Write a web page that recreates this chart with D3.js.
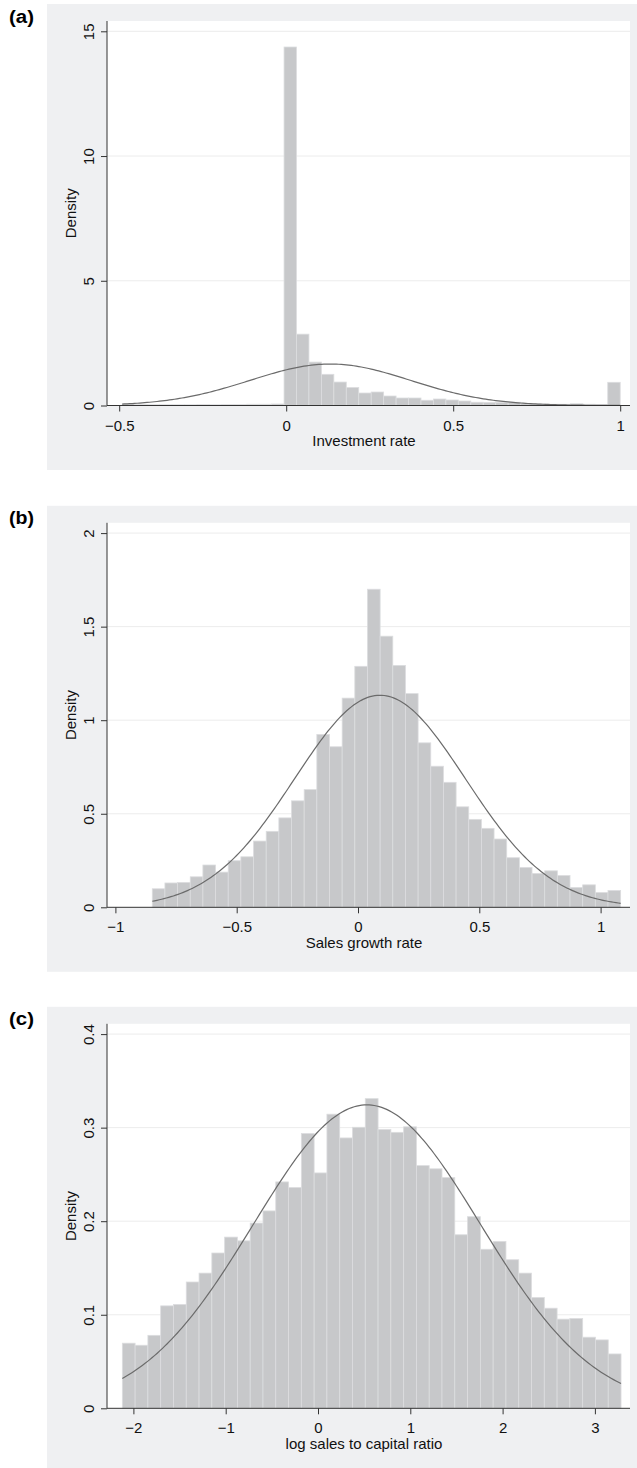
<!DOCTYPE html>
<html><head><meta charset="utf-8">
<script src="https://cdn.jsdelivr.net/npm/d3@7"></script>
<style>html,body{margin:0;padding:0;background:#fff;} svg{display:block;}</style>
</head><body>
<svg id="chart" width="637" height="1468"></svg>
<script>
// ---------------- data ----------------
const panelLabels = ["(a)", "(b)", "(c)"];
const xTitles = ["Investment rate", "Sales growth rate", "log sales to capital ratio"];
const yTitle = "Density";

// (a) Investment rate
const invBinStart = -0.491, invBinWidth = 0.037275;
const invDensity = [0.06,0.03,0.03,0.03,0.03,0.03,0.04,0.03,0.04,0.04,0.05,0.05,0.06,
  14.37,2.86,1.74,1.25,0.94,0.72,0.50,0.54,0.38,0.30,0.30,0.21,0.26,0.22,0.18,0.13,0.12,0.12,0.13,
  0.07,0.06,0.05,0.05,0.07,0.05,0.04,0.93];
const invNormal = [0.132, 0.240];           // mean, sd
const invXTicks = [-0.5, 0, 0.5, 1];
const invYTicks = [0, 5, 10, 15];

// (b) Sales growth rate
const salesBinStart = -0.848, salesBinWidth = 0.05218;
const salesDensity = [0.099,0.130,0.133,0.163,0.226,0.188,0.249,0.270,0.354,0.406,
  0.478,0.569,0.629,0.924,0.858,1.118,1.288,1.700,1.449,1.293,
  1.142,0.879,0.754,0.668,0.537,0.470,0.422,0.365,0.265,0.213,
  0.181,0.195,0.170,0.106,0.120,0.079,0.090];
const salesNormal = [0.0907, 0.352];
const salesXTicks = [-1, -0.5, 0, 0.5, 1];
const salesYTicks = [0, 0.5, 1, 1.5, 2];

// (c) log sales to capital ratio
const lscBinStart = -2.12, lscBinWidth = 0.13854;
const lscDensity = [0.0696,0.0674,0.078,0.1095,0.111,0.135,0.1445,0.166,0.183,0.179,
  0.198,0.211,0.242,0.236,0.2937,0.2516,0.3144,0.289,0.3004,0.331,
  0.298,0.295,0.3009,0.2594,0.256,0.2466,0.1855,0.2048,0.170,0.1784,
  0.1588,0.1445,0.1184,0.107,0.0953,0.096,0.076,0.0731,0.0581];
const lscNormal = [0.53, 1.23];
const lscXTicks = [-2, -1, 0, 1, 2, 3];
const lscYTicks = [0, 0.1, 0.2, 0.3, 0.4];

// ---------------- layout ----------------
const panels = [
  {label: panelLabels[0], title: xTitles[0], start: invBinStart, width: invBinWidth, dens: invDensity,
   normal: invNormal, xt: invXTicks, yt: invYTicks, off: 0, xr: [119.2, 620.2]},
  {label: panelLabels[1], title: xTitles[1], start: salesBinStart, width: salesBinWidth, dens: salesDensity,
   normal: salesNormal, xt: salesXTicks, yt: salesYTicks, off: 501.8, xr: [115.4, 600.6]},
  {label: panelLabels[2], title: xTitles[2], start: lscBinStart, width: lscBinWidth, dens: lscDensity,
   normal: lscNormal, xt: lscXTicks, yt: lscYTicks, off: 1002.8, xr: [133.4, 594.9]}
];

const FONT = "'Liberation Sans', Arial, Helvetica, sans-serif";
const plotL = 107, plotR = 630;
const fmt = v => (v < 0 ? "\u2212" + String(-v) : String(v));

const svg = d3.select("#chart");

panels.forEach(p => {
  const o = p.off;
  const boxTop = o + 4, boxBot = o + 470;
  const plotTop = o + 21, axisY = o + 405.5, topTickY = o + 31.3;
  const g = svg.append("g");

  g.append("rect").attr("x", 47).attr("y", boxTop).attr("width", 637 - 47)
    .attr("height", boxBot - boxTop).attr("fill", "#eff0f2");
  g.append("rect").attr("x", plotL).attr("y", plotTop).attr("width", plotR - plotL)
    .attr("height", axisY - plotTop).attr("fill", "#ffffff");

  const x = d3.scaleLinear().domain([p.xt[0], p.xt[p.xt.length - 1]]).range(p.xr);
  const y = d3.scaleLinear().domain([0, p.yt[p.yt.length - 1]]).range([axisY, topTickY]);

  // gridlines
  g.append("g").selectAll("line").data(p.yt.filter(v => v !== 0)).join("line")
    .attr("x1", plotL).attr("x2", plotR)
    .attr("y1", d => y(d)).attr("y2", d => y(d))
    .attr("stroke", "#ececec").attr("stroke-width", 1);

  // bars
  g.append("g").selectAll("rect").data(p.dens).join("rect")
    .attr("x", (d, i) => x(p.start + i * p.width))
    .attr("width", (d, i) => x(p.start + (i + 1) * p.width) - x(p.start + i * p.width))
    .attr("y", d => y(d))
    .attr("height", d => axisY - y(d))
    .attr("fill", "#c7c8ca").attr("stroke", "#dcdddf").attr("stroke-width", 0.8);

  // normal density overlay (fitted mean/sd)
  const lo = p.start, hi = p.start + p.dens.length * p.width;
  const [mu, sd] = p.normal;
  const pts = d3.range(0, 201).map(k => {
    const v = lo + (hi - lo) * k / 200;
    return [v, Math.exp(-0.5 * ((v - mu) / sd) ** 2) / (sd * Math.sqrt(2 * Math.PI))];
  });
  g.append("path").datum(pts)
    .attr("d", d3.line().x(d => x(d[0])).y(d => y(d[1])))
    .attr("fill", "none").attr("stroke", "#6b6b6b").attr("stroke-width", 1.2);

  // axes
  const ax = g.append("g").attr("transform", `translate(0,${axisY})`)
    .call(d3.axisBottom(x).tickValues(p.xt).tickSize(6).tickSizeOuter(0).tickFormat(fmt));
  ax.select(".domain").remove();
  ax.selectAll(".tick line").attr("stroke", "#333");
  ax.selectAll(".tick text").attr("y", 25.2).attr("dy", 0)
    .attr("font-family", FONT).attr("font-size", 15).attr("fill", "#111");

  const ay = g.append("g").attr("transform", `translate(${plotL},0)`)
    .call(d3.axisLeft(y).tickValues(p.yt).tickSize(6).tickSizeOuter(0).tickFormat(fmt));
  ay.select(".domain").remove();
  ay.selectAll(".tick line").attr("stroke", "#333");
  ay.selectAll(".tick text").attr("x", 0).attr("y", 0).attr("dy", 0)
    .attr("transform", "translate(-13,0) rotate(-90)").attr("text-anchor", "middle")
    .attr("font-family", FONT).attr("font-size", 15).attr("fill", "#111");

  g.append("line").attr("x1", plotL).attr("x2", plotL).attr("y1", plotTop).attr("y2", axisY)
    .attr("stroke", "#333").attr("stroke-width", 1);
  g.append("line").attr("x1", plotL).attr("x2", plotR).attr("y1", axisY).attr("y2", axisY)
    .attr("stroke", "#333").attr("stroke-width", 1);

  // titles
  g.append("text").attr("x", 364).attr("y", axisY + 40.5).attr("text-anchor", "middle")
    .attr("font-family", FONT).attr("font-size", 15).attr("fill", "#111").text(p.title);
  g.append("text").attr("transform", `translate(76,${(plotTop + axisY) / 2}) rotate(-90)`)
    .attr("text-anchor", "middle")
    .attr("font-family", FONT).attr("font-size", 15).attr("fill", "#111").text(yTitle);

  g.append("text").attr("x", 9).attr("y", o + 22.5)
    .attr("font-family", FONT).attr("font-size", 18).attr("font-weight", "bold")
    .attr("fill", "#000").attr("textLength", 25).attr("lengthAdjust", "spacingAndGlyphs")
    .text(p.label);
});
</script>
</body></html>
